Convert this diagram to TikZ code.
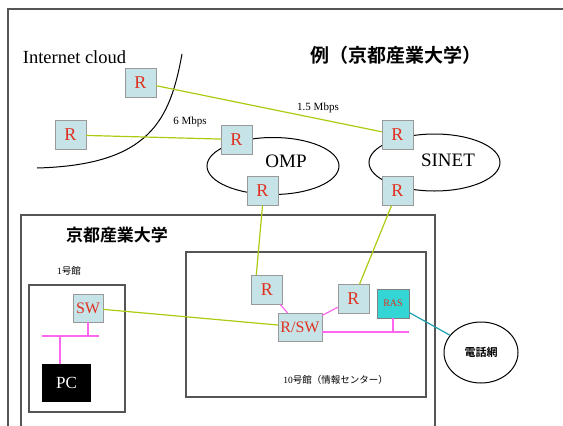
\documentclass[tikz,border=0pt]{standalone}
\usepackage{fontspec}
\setmainfont{Liberation Serif}
\newfontfamily\jpfont{Noto Sans CJK JP}[BoldFont=* Bold]
\usetikzlibrary{shapes.geometric}
\definecolor{rtblue}{HTML}{C6E4E8}
\definecolor{rtred}{HTML}{E03020}
\definecolor{wanline}{HTML}{AACC10}
\definecolor{lanpink}{HTML}{FF66EE}
\definecolor{telline}{HTML}{1AA0AE}
\definecolor{rascyan}{HTML}{33D5D5}
\definecolor{framegray}{HTML}{555555}

\begin{document}
\begin{tikzpicture}[
x=1pt, y=-1pt,
router/.style={draw=gray!80, fill=rtblue, text=rtred, minimum width=31pt, minimum height=29pt,
    inner sep=0pt, font=\fontsize{18}{18}\selectfont},
wan/.style={wanline, line width=1.2pt},
lan/.style={lanpink, line width=1.2pt},
frame/.style={framegray, line width=1.2pt},
netcloud/.style={draw, ellipse, line width=1pt, inner sep=0pt},
]
\useasboundingbox (0,0) rectangle (563,426);

\draw[frame] (8,426) -- (8,9) -- (563,9);
\draw[frame] (21,426) -- (21,215) -- (435,215) -- (435,426);
\draw[frame] (29,285) rectangle (125,412);
\draw[frame] (186,252) rectangle (426,397);

\node[font=\fontsize{18.5}{18.5}\selectfont] (inet) at (74.5,57) {Internet cloud};
\node[font=\jpfont\bfseries\fontsize{19}{19}\selectfont] (title) at (396,55) {例（京都産業大学）};
\draw[line width=1pt] (182,54) .. controls (170,120) and (150,165) .. (37,168);

\node[netcloud, minimum width=132pt, minimum height=57pt] (omp) at (273,166) {};
\node[netcloud, minimum width=131pt, minimum height=57pt] (sinet) at (434.5,162.5) {};
\node[font=\fontsize{19}{19}\selectfont] (omplabel) at (286,161) {OMP};
\node[font=\fontsize{19}{19}\selectfont] (sinetlabel) at (448,160) {SINET};

\node[router] (r1) at (140.5,82.5) {R};
\node[router] (r2) at (70.5,135) {R};
\node[router] (r3) at (236.5,139.5) {R};
\node[router] (r4) at (397.5,135) {R};
\node[router] (r5) at (262.5,191) {R};
\node[router] (r6) at (397.5,191) {R};

\draw[wan] (r1) -- (r4);
\draw[wan] (r2) -- (r3);
\node[font=\fontsize{11}{11}\selectfont] (bw15) at (318,108) {1.5 Mbps};
\node[font=\fontsize{11}{11}\selectfont] (bw6) at (190,122) {6 Mbps};

\node[font=\jpfont\bfseries\fontsize{17}{17}\selectfont] (ksu) at (117,235) {京都産業大学};
\node[font=\fontsize{9.5}{9.5}\selectfont] (b1label) at (69,271) {1\jpfont 号館};
\node[font=\fontsize{9.5}{9.5}\selectfont] (b10label) at (335.5,380) {10\jpfont 号館（情報センター）};

\node[router, minimum width=30pt, minimum height=28pt, font=\fontsize{16}{16}\selectfont] (sw) at (88,308) {SW};
\node[fill=black, text=white, minimum width=49pt, minimum height=38pt, inner sep=0pt,
    font=\fontsize{17}{17}\selectfont] (pc) at (66.5,383) {PC};
\coordinate (bus1l) at (42,336);
\coordinate (bus1r) at (99,336);
\coordinate (pctap) at (60,336);
\draw[lan] (bus1l) -- (bus1r);
\draw[lan] (sw.south) -- (sw.south |- bus1l);
\draw[lan] (pctap) -- (pctap |- pc.north);

\node[router] (r10a) at (267,289.5) {R};
\node[router] (r10b) at (353.5,299) {R};
\node[router, minimum width=44pt, minimum height=28pt, font=\fontsize{16}{16}\selectfont] (rsw) at (300,327) {R/SW};
\node[router, fill=rascyan, draw=gray, minimum width=32pt, font=\fontsize{10}{10}\selectfont] (ras) at (393,303.5) {RAS};
\coordinate (bus10) at (409,332);
\draw[lan] (bus10 -| rsw.east) -- (bus10);
\draw[lan] (ras.south) -- (ras.south |- bus10);
\draw[lan] (r10a) -- (rsw);
\draw[lan] (r10b) -- (rsw);

\draw[wan] (r5.south) -- ([xshift=5pt]r10a.north west);
\draw[wan] (r6) -- (r10b);
\draw[wan] (sw) -- (rsw);

\node[netcloud, minimum width=74pt, minimum height=61pt, font=\jpfont\bfseries\fontsize{11}{11}\selectfont] (tel) at (481,352.5) {電話網};
\draw[telline, line width=1.2pt] (ras) -- (tel);

\end{tikzpicture}
\end{document}
